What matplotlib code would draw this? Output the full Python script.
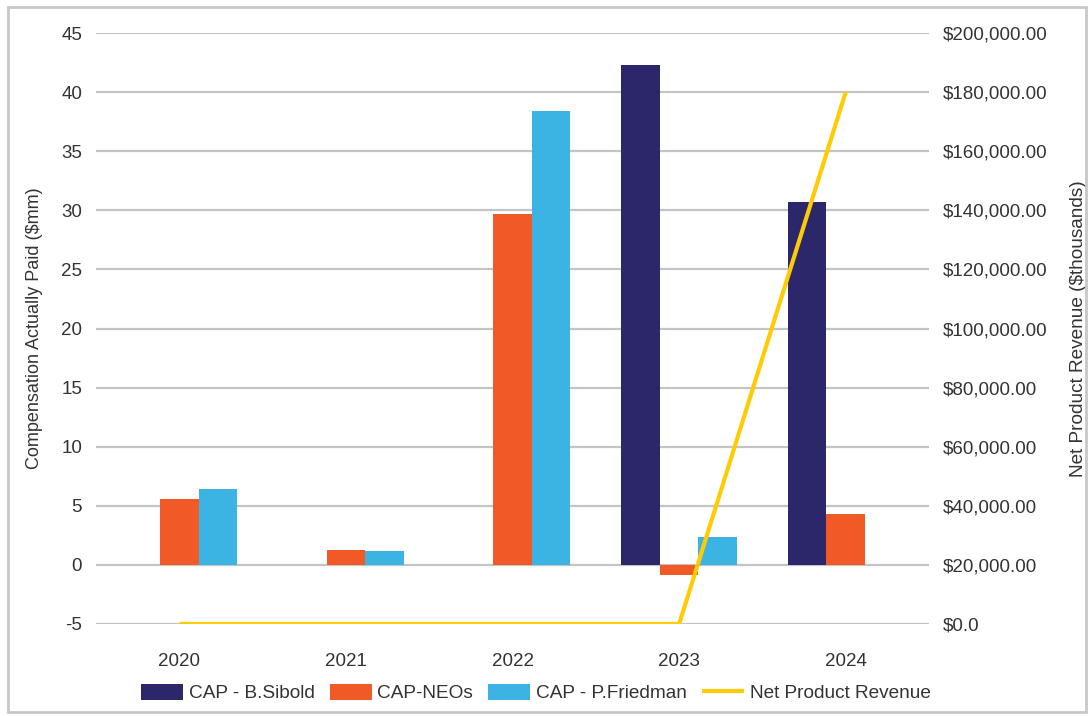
import numpy as np
import matplotlib
matplotlib.use("Agg")
import matplotlib.pyplot as plt
from matplotlib.patches import Rectangle

plt.rcParams['font.family'] = ['Liberation Sans', 'DejaVu Sans']
plt.rcParams['axes.unicode_minus'] = False

# data
years = ['2020', '2021', '2022', '2023', '2024']
cap_sibold = [0, 0, 0, 42.3, 30.7]
cap_neos = [5.6, 1.25, 29.7, -0.85, 4.3]
cap_friedman = [6.45, 1.15, 38.4, 2.35, 0]
net_revenue = [0, 0, 0, 0, 180000]

left_ticks = [-5, 0, 5, 10, 15, 20, 25, 30, 35, 40, 45]
right_ticks = [0, 20000, 40000, 60000, 80000, 100000, 120000, 140000, 160000, 180000, 200000]

c_sibold = '#2c266b'
c_neos = '#f15a27'
c_friedman = '#3bb4e3'
c_line = '#ffcb05'
txt = '#333333'
fs = 13.5

fig = plt.figure(figsize=(10.89, 7.16), dpi=100)
ax = fig.add_axes([0.0882, 0.1285, 0.7649, 0.8254])

x = np.arange(len(years))
w = 0.231
ax.bar(x - w, cap_sibold, w, color=c_sibold, label='CAP - B.Sibold', zorder=3)
ax.bar(x, cap_neos, w, color=c_neos, label='CAP-NEOs', zorder=3)
ax.bar(x + w, cap_friedman, w, color=c_friedman, label='CAP - P.Friedman', zorder=3)

ax.set_xlim(-0.5, 4.5)
ax.set_ylim(-5, 45)
ax.set_yticks(left_ticks)
ax.set_yticklabels([str(t) for t in left_ticks])
ax.set_xticks(x)
ax.set_xticklabels(years)
ax.grid(axis='y', color='#c4c4c4', linewidth=1.6, zorder=0)
ax.set_axisbelow(True)
for s in ax.spines.values():
    s.set_visible(False)
ax.tick_params(axis='y', length=0, pad=10, labelsize=fs, labelcolor=txt)
ax.tick_params(axis='x', length=0, pad=21, labelsize=fs, labelcolor=txt)
ax.set_ylabel('Compensation Actually Paid ($mm)', fontsize=13, color=txt, labelpad=13)

ax2 = ax.twinx()
ax2.plot(x, net_revenue, color=c_line, linewidth=3, label='Net Product Revenue',
         solid_capstyle='butt', zorder=4)
ax2.set_ylim(0, 200000)
ax2.set_yticks(right_ticks)
ax2.set_yticklabels(['$0.0' if t == 0 else '${:,.2f}'.format(t) for t in right_ticks])
for s in ax2.spines.values():
    s.set_visible(False)
ax2.tick_params(axis='y', length=0, pad=10, labelsize=fs, labelcolor=txt)
ax2.set_ylabel('Net Product Revenue ($thousands)', fontsize=13.7, color=txt, labelpad=16)

h1, l1 = ax.get_legend_handles_labels()
h2, l2 = ax2.get_legend_handles_labels()
fig.legend(h1 + h2, l1 + l2, loc='center', bbox_to_anchor=(0.492, 0.032), ncol=4,
           frameon=False, fontsize=13.7, handlelength=2.2, handleheight=0.9,
           handletextpad=0.3, columnspacing=0.8, labelcolor=txt)

fig.patches.append(Rectangle((0.007, 0.005), 0.99, 0.985, transform=fig.transFigure,
                             fill=False, edgecolor='#c8c8c8', linewidth=2))

fig.savefig('out.png', dpi=100)
